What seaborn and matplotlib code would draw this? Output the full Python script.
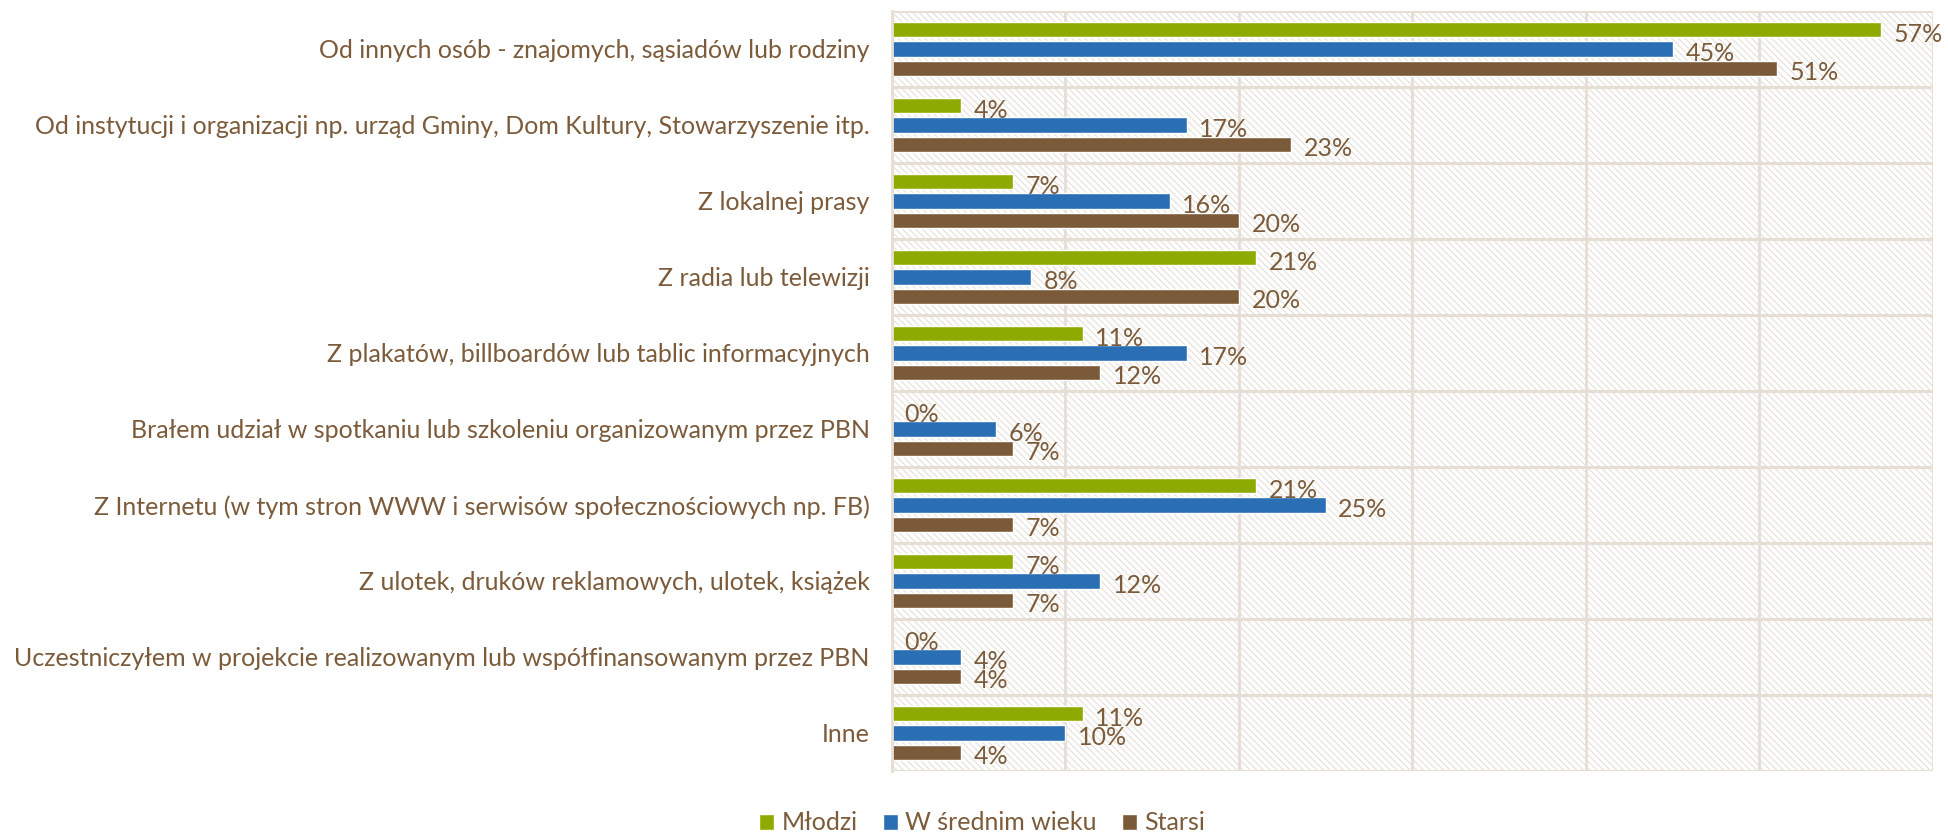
import matplotlib
matplotlib.use("Agg")
import matplotlib.pyplot as plt
import seaborn as sns
import pandas as pd
import numpy as np
from matplotlib.patches import Rectangle

categories = [
    "Od innych osób - znajomych, sąsiadów lub rodziny",
    "Od instytucji i organizacji np. urząd Gminy, Dom Kultury, Stowarzyszenie itp.",
    "Z lokalnej prasy",
    "Z radia lub telewizji",
    "Z plakatów, billboardów lub tablic informacyjnych",
    "Brałem udział w spotkaniu lub szkoleniu organizowanym przez PBN",
    "Z Internetu (w tym stron WWW i serwisów społecznościowych np. FB)",
    "Z ulotek, druków reklamowych, ulotek, książek",
    "Uczestniczyłem w projekcie realizowanym lub współfinansowanym przez PBN",
    "Inne",
]
series_names = ["Młodzi", "W średnim wieku", "Starsi"]
mlodzi = [57, 4, 7, 21, 11, 0, 21, 7, 0, 11]
sredni = [45, 17, 16, 8, 17, 6, 25, 12, 4, 10]
starsi = [51, 23, 20, 20, 12, 7, 7, 7, 4, 4]
colors = ["#8DAA00", "#2A6EB4", "#7B5A39"]
text_color = "#7B5B3A"
grid_color = "#E6DED5"

df = pd.DataFrame({
    "cat": categories * 3,
    "series": [series_names[0]] * 10 + [series_names[1]] * 10 + [series_names[2]] * 10,
    "val": mlodzi + sredni + starsi,
})

sns.set_theme(style="white")
plt.rcParams["font.family"] = ["Lato", "DejaVu Sans"]
plt.rcParams["hatch.linewidth"] = 0.7
plt.rcParams["hatch.color"] = "#E2DCD5"

fig = plt.figure(figsize=(19.49, 8.36), dpi=100)
ax = fig.add_axes([892 / 1949, 1 - 771 / 836, (1933 - 892) / 1949, (771 - 11) / 836])

# hatched background
bg = Rectangle((0, 0), 1, 1, transform=ax.transAxes, facecolor="white",
               edgecolor="#E2DCD5", hatch="\\" * 5, linewidth=0, zorder=0)
ax.add_patch(bg)

sns.barplot(data=df, y="cat", x="val", hue="series", palette=colors,
            orient="h", width=0.755, gap=0.21, ax=ax, saturation=1,
            errorbar=None, zorder=3, legend=True)

ax.set_xlim(0, 60)
ax.set_ylim(len(categories) - 0.5, -0.5)
ax.set_xlabel("")
ax.set_ylabel("")
ax.set_xticks(np.arange(0, 61, 10))
ax.set_xticklabels([])
ax.tick_params(axis="x", length=0)
ax.xaxis.grid(True, color=grid_color, linewidth=2, zorder=1)
ax.set_axisbelow(True)

# category separators
bounds = np.arange(-0.5, len(categories), 1)
for b in bounds:
    ax.axhline(b, color=grid_color, linewidth=2.2, zorder=1.5)
ax.set_yticks(bounds, minor=True)
ax.tick_params(axis="y", which="minor", length=7, width=2, color=grid_color, direction="out")
ax.tick_params(axis="y", which="major", length=0, pad=16, labelsize=18, labelcolor=text_color)

for s in ["top", "right", "bottom"]:
    ax.spines[s].set_visible(False)
ax.spines["left"].set_color(grid_color)
ax.spines["left"].set_linewidth(2)
ax.spines["left"].set_zorder(4)

# value labels
for cont in ax.containers:
    for patch in cont:
        w = patch.get_width()
        yc = patch.get_y() + patch.get_height() / 2
        ax.annotate(f"{w:.0f}%", xy=(w, yc), xytext=(9, -3), textcoords="offset points",
                    ha="left", va="center", fontsize=18, color=text_color, zorder=5,
                    annotation_clip=False)

leg = ax.legend(loc="center", bbox_to_anchor=(0.504, 1 - 823 / 836), bbox_transform=fig.transFigure,
                ncol=3, frameon=False, fontsize=18, handlelength=0.6, handleheight=0.6,
                columnspacing=1.0, handletextpad=0.3)
for t in leg.get_texts():
    t.set_color(text_color)

fig.savefig("out.png", dpi=100)
